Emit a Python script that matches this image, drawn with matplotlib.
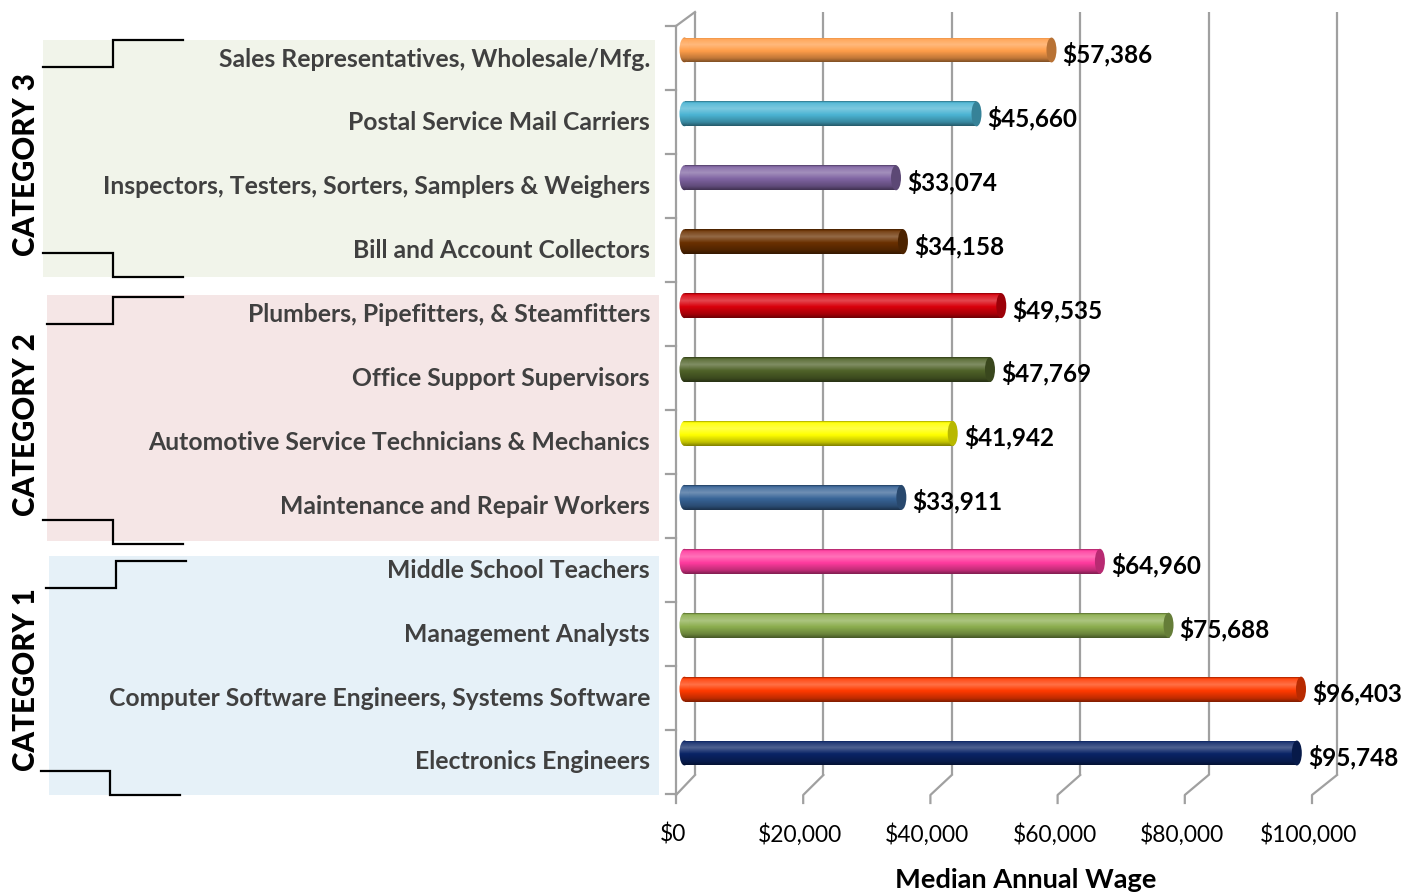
import numpy as np
import matplotlib
matplotlib.use("Agg")
import matplotlib.pyplot as plt
from matplotlib import font_manager as fm
from matplotlib.patches import Ellipse, Rectangle
from matplotlib.transforms import ScaledTranslation

# ---------------- data (bottom -> top) ----------------
occupations = [
    "Electronics Engineers",
    "Computer Software Engineers, Systems Software",
    "Management Analysts",
    "Middle School Teachers",
    "Maintenance and Repair Workers",
    "Automotive Service Technicians & Mechanics",
    "Office Support Supervisors",
    "Plumbers, Pipefitters, & Steamfitters",
    "Bill and Account Collectors",
    "Inspectors, Testers, Sorters, Samplers & Weighers",
    "Postal Service Mail Carriers",
    "Sales Representatives, Wholesale/Mfg.",
]
wages = [95748, 96403, 75688, 64960, 33911, 41942, 47769, 49535,
         34158, 33074, 45660, 57386]
bar_colors = ["#0A2466", "#FF3A00", "#8CAE4E", "#FF3B9E", "#386497", "#FFFF00",
              "#4F6228", "#D9000B", "#6A3000", "#8064A2", "#4BB4D3", "#FF9E4A"]
categories = ["CATEGORY 1", "CATEGORY 2", "CATEGORY 3"]
x_ticks = [0, 20000, 40000, 60000, 80000, 100000]
x_title = "Median Annual Wage"

# ---------------- figure ----------------
W, H = 1420, 894
fig = plt.figure(figsize=(W / 100, H / 100), dpi=100)
fig.patch.set_facecolor("white")

names = {f.name for f in fm.fontManager.ttflist}
LAB_FONT = "Lato" if "Lato" in names else "DejaVu Sans"
NARROW = "Liberation Sans Narrow" if "Liberation Sans Narrow" in names else LAB_FONT

renderer = fig.canvas.get_renderer()


def fit_size(text, family, weight, target_px, base=20.0):
    t = fig.text(0, 0, text, fontsize=base, family=family, fontweight=weight)
    w = t.get_window_extent(renderer).width
    t.remove()
    return base * target_px / w


fs_label = fit_size("Computer Software Engineers, Systems Software", LAB_FONT, "bold", 542)
fs_value = fit_size("$96,403", LAB_FONT, "bold", 90)
fs_tick = fit_size("$100,000", NARROW, "normal", 98)
fs_cat = fit_size("CATEGORY 3", LAB_FONT, "black", 183)
fs_title = fit_size(x_title, LAB_FONT, "bold", 262)

# background / decoration axes in pixel coordinates
bg = fig.add_axes([0, 0, 1, 1], zorder=0)
bg.set_xlim(0, W)
bg.set_ylim(H, 0)
bg.axis("off")

# category panels
panels = [  # x0, y0, x1, y1, color
    (43, 40, 655, 277, "#F1F4EA"),
    (47, 295, 659, 541, "#F5E6E6"),
    (49, 556, 659, 795, "#E6F1F8"),
]
for x0, y0, x1, y1, c in panels:
    bg.add_patch(Rectangle((x0, y0), x1 - x0, y1 - y0, facecolor=c, edgecolor="none"))

# brackets
brackets = [
    (43, 113, 183, 67, 40), (43, 113, 183, 253, 277),
    (47, 113, 183, 324, 297), (43, 113, 183, 520, 544),
    (46, 116, 186, 588, 561), (41, 110, 180, 771, 795),
]
for xa, xm, xb, ya, yb in brackets:
    bg.plot([xa, xm, xm, xb], [ya, ya, yb, yb], color="black", lw=1.6,
            solid_joinstyle="miter")

# category titles
cat_centers = [680, 425, 165]
for name, yc in zip(categories, cat_centers):
    bg.text(26, yc, name, rotation=90, ha="center", va="center", fontsize=fs_cat,
            family=LAB_FONT, fontweight="black", color="black")

# 3D-like frame
GRID = "#A0A0A0"
def px_front(v):
    return 676 + v / 100000 * 636

def px_back(v):
    return 695 + v / 100000 * 642

for v in x_ticks:
    xb, xf = px_back(v), px_front(v)
    bg.plot([xb, xb], [12, 775], color=GRID, lw=1.6, solid_capstyle="butt")
    bg.plot([xb, xf, xf], [775, 795, 803], color=GRID, lw=1.6)
    bg.text(xf - 3, 835, f"${v:,}", ha="center", va="center", fontsize=fs_tick,
            family=NARROW, color="black")
# left wall
bg.plot([676, 676], [26, 795], color=GRID, lw=1.6)
bg.plot([676, 695], [26, 12], color=GRID, lw=1.6)
for k in range(13):
    yk = 26 + k * 64
    bg.plot([666, 676], [yk, yk], color=GRID, lw=1.6)

bg.text(1026, 880, x_title, ha="center", va="center", fontsize=fs_title,
        family=LAB_FONT, fontweight="bold", color="black")

# ---------------- bars ----------------
px_per_unit = 639.5 / 100000
x_left = -10 / px_per_unit
ax = fig.add_axes([674.5 / W, 100 / H, 649.5 / W, 768 / H], zorder=2)
ax.set_facecolor("none")
ax.axis("off")

ypos = np.arange(len(wages))
bh = 0.39
cap_w = 10 / px_per_unit  # cap width in data units

pos = [0.0, 0.08, 0.3, 0.55, 0.85, 1.0]
lig = [-0.35, 0.10, 0.28, 0.0, -0.25, -0.5]
rows = np.linspace(0, 1, 64)
l = np.interp(rows, pos, lig)
grad = np.zeros((64, 1, 4))
grad[:, 0, :3] = np.where(l[:, None] > 0, 1.0, 0.0)
grad[:, 0, 3] = np.abs(l)

bars = ax.barh(ypos, wages, height=bh, color=bar_colors, edgecolor="none", zorder=2)
for y, v, c, b in zip(ypos, wages, bar_colors, bars):
    im = ax.imshow(grad, extent=[0, v, y - bh / 2, y + bh / 2],
                   aspect="auto", origin="upper", zorder=3, interpolation="bilinear")
    im.set_clip_path(b)
    left = Ellipse((0, y), cap_w, bh, facecolor=c, edgecolor="none", zorder=3.1)
    ax.add_patch(left)
    im2 = ax.imshow(grad, extent=[-cap_w / 2, cap_w / 2, y - bh / 2, y + bh / 2],
                    aspect="auto", origin="upper", zorder=3.2, interpolation="bilinear")
    im2.set_clip_path(left)
    rgb = np.array(matplotlib.colors.to_rgb(c)) * 0.72
    ax.add_patch(Ellipse((v, y), cap_w, bh, facecolor=rgb, edgecolor="none", zorder=4))
    ax.text(v, y, f"${v:,}", ha="left", va="center", fontsize=fs_value,
            family=LAB_FONT, fontweight="bold", color="black",
            transform=ax.transData + ScaledTranslation(0.11, -0.04, fig.dpi_scale_trans))
    ax.text(0, y, occupations[y], ha="right", va="center", fontsize=fs_label,
            family=LAB_FONT, fontweight="bold", color="#404040",
            transform=ax.transData + ScaledTranslation(-0.345, -0.09, fig.dpi_scale_trans))

ax.set_xlim(x_left, 100000)
ax.set_ylim(-0.6416, 11.3756)

fig.savefig("out.png", dpi=100)
